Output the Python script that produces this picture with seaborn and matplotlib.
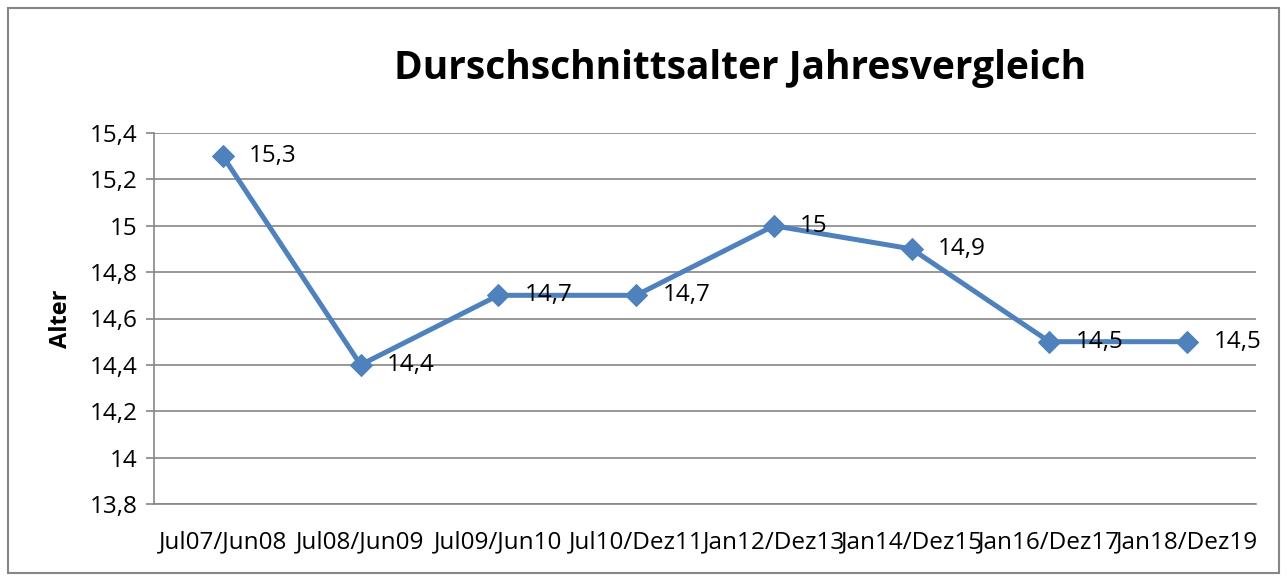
import seaborn as sns
import pandas as pd
import numpy as np
import matplotlib.pyplot as plt
from matplotlib.patches import Rectangle
from matplotlib.ticker import FixedLocator

# values
periods = ['Jul07/Jun08', 'Jul08/Jun09', 'Jul09/Jun10', 'Jul10/Dez11',
           'Jan12/Dez13', 'Jan14/Dez15', 'Jan16/Dez17', 'Jan18/Dez19']
alter = [15.3, 14.4, 14.7, 14.7, 15.0, 14.9, 14.5, 14.5]
y_ticks = [13.8, 14.0, 14.2, 14.4, 14.6, 14.8, 15.0, 15.2, 15.4]


def de_num(v):
    s = ('%.1f' % v).rstrip('0').rstrip('.')
    return s.replace('.', ',')


sns.set_style('white')
plt.rcParams['font.family'] = ['Open Sans', 'DejaVu Sans']
plt.rcParams['text.color'] = 'black'
plt.rcParams['xtick.color'] = 'black'
plt.rcParams['ytick.color'] = 'black'
plt.rcParams['axes.labelcolor'] = 'black'

df = pd.DataFrame({'Zeitraum': periods, 'Alter': alter})
line_col = '#4F81BD'
grid_col = '#868686'

fig = plt.figure(figsize=(12.87, 5.81), dpi=100)
ax = fig.add_axes([154 / 1287, 1 - 504 / 581, 1102 / 1287, 371 / 581])

sns.lineplot(data=df, x='Zeitraum', y='Alter', ax=ax, color=line_col, linewidth=3.6,
             marker='D', markersize=11, markeredgecolor=line_col, sort=False)

ax.set_xlim(-0.5, len(periods) - 0.5)
ax.set_ylim(13.8, 15.4)
ax.set_yticks(y_ticks)
ax.set_yticklabels([de_num(t) for t in y_ticks], fontsize=17.5)
ax.set_xticks(range(len(periods)))
ax.set_xticklabels(periods, fontsize=17.5)
ax.xaxis.set_minor_locator(FixedLocator(np.arange(-0.5, len(periods), 1.0)))
ax.tick_params(axis='x', which='major', length=0, pad=19, colors='black')
ax.tick_params(axis='x', which='minor', length=6, color=grid_col, width=1.2, direction='out')
ax.tick_params(axis='y', length=6, color=grid_col, labelcolor='black', width=1.2,
               direction='out', pad=6, left=True)
ax.yaxis.grid(True, color=grid_col, linewidth=1.2)
ax.set_axisbelow(True)

for sp in ['top', 'right']:
    ax.spines[sp].set_visible(False)
for sp in ['left', 'bottom']:
    ax.spines[sp].set_color(grid_col)
    ax.spines[sp].set_linewidth(1.2)

ax.set_xlabel('')
ax.set_ylabel('Alter', fontsize=17, fontweight='bold', labelpad=12)

for i, v in enumerate(alter):
    ax.annotate(de_num(v), (i, v), xytext=(19, 0), textcoords='offset points',
                ha='left', va='center', fontsize=17.5)

fig.text(740 / 1287, 1 - 69 / 581, 'Durschschnittsalter Jahresvergleich',
         ha='center', va='center', fontsize=28, fontweight='bold')

fig.patches.append(Rectangle((8 / 1287, 8 / 581), 1271 / 1287, 565 / 581,
                             transform=fig.transFigure, fill=False,
                             edgecolor=grid_col, linewidth=1.5))

fig.savefig('out.png', dpi=100)
